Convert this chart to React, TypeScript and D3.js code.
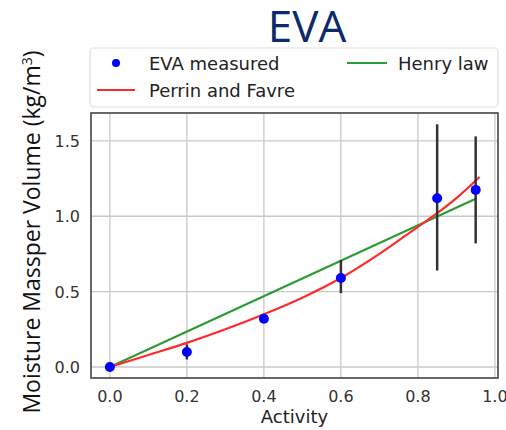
import React from "react";
import * as d3 from "d3";

const measuredX = [0, 0.2, 0.4, 0.6, 0.85, 0.95];
const measuredY = [0, 0.1, 0.32, 0.59, 1.12, 1.175];
const errLow = [0, 0.05, 0.32, 0.49, 0.64, 0.82];
const errHigh = [0, 0.15, 0.32, 0.71, 1.61, 1.53];

const perrinX = [0, 0.1, 0.2, 0.3, 0.4, 0.5, 0.6, 0.7, 0.8, 0.85, 0.9, 0.96];
const perrinY = [0, 0.08, 0.16, 0.25, 0.35, 0.46, 0.59, 0.75, 0.93, 1.02, 1.12, 1.26];

const henryX = [0, 0.953];
const henryY = [0, 1.12];

const xTicks = [0, 0.2, 0.4, 0.6, 0.8, 1.0];
const yTicks = [0, 0.5, 1.0, 1.5];

const W = 506, H = 430;
const frame = { left: 91, right: 498, top: 113, bottom: 378 };

export default function App() {
  const x = d3.scaleLinear().domain([-0.049, 1.008]).range([frame.left, frame.right]);
  const y = d3.scaleLinear().domain([-0.073, 1.685]).range([frame.bottom, frame.top]);
  const line = d3.line<[number, number]>().x(d => x(d[0])).y(d => y(d[1]));
  const perrin = line.curve(d3.curveMonotoneX)(perrinX.map((v, i) => [v, perrinY[i]]) as [number, number][]);
  const henry = d3.line<[number, number]>().x(d => x(d[0])).y(d => y(d[1]))(henryX.map((v, i) => [v, henryY[i]]) as [number, number][]);
  const tickFont = "DejaVu Sans";
  return (
    <div style={{ position: "absolute", left: 0, top: 0 }}>
      <svg width={W} height={H} style={{ display: "block", background: "#fff" }}>
        <text x={307} y={42} textAnchor="middle" fontFamily="Open Sans" fontSize={44} fill="#0b2a6b">EVA</text>
        {/* grid */}
        {xTicks.map(t => (
          <line key={"gx" + t} x1={x(t)} x2={x(t)} y1={frame.top} y2={frame.bottom} stroke="#c8c8c8" strokeWidth={1.3} />
        ))}
        {yTicks.map(t => (
          <line key={"gy" + t} x1={frame.left} x2={frame.right} y1={y(t)} y2={y(t)} stroke="#c8c8c8" strokeWidth={1.3} />
        ))}
        {/* lines */}
        <path d={henry || ""} fill="none" stroke="#2e9a35" strokeWidth={2.2} />
        <path d={perrin || ""} fill="none" stroke="#ff2a2a" strokeWidth={2.2} />
        {/* error bars */}
        {measuredX.map((v, i) => (
          errHigh[i] > errLow[i] ? (
            <line key={"e" + i} x1={x(v)} x2={x(v)} y1={y(errLow[i])} y2={y(errHigh[i])} stroke="#333" strokeWidth={2.5} />
          ) : null
        ))}
        {measuredX.map((v, i) => (
          <circle key={"p" + i} cx={x(v)} cy={y(measuredY[i])} r={5} fill="#0000ff" />
        ))}
        {/* frame */}
        <rect x={frame.left} y={frame.top} width={frame.right - frame.left} height={frame.bottom - frame.top} fill="none" stroke="#444" strokeWidth={1.6} />
        {/* tick labels */}
        {xTicks.map(t => (
          <text key={"tx" + t} x={x(t)} y={402} textAnchor="middle" fontFamily={tickFont} fontSize={16} fill="#333">{t.toFixed(1)}</text>
        ))}
        {yTicks.map(t => (
          <text key={"ty" + t} x={80} y={y(t) + 6} textAnchor="end" fontFamily={tickFont} fontSize={16} fill="#333">{t.toFixed(1)}</text>
        ))}
        <text x={(frame.left + frame.right) / 2} y={423} textAnchor="middle" fontFamily={tickFont} fontSize={18} fill="#222">Activity</text>
        <text transform={`translate(40,232) rotate(-90)`} textAnchor="middle" fontFamily="Open Sans" fontSize={23} fill="#111">
          Moisture Massper Volume (kg/m<tspan dy={-8} fontSize={14}>3</tspan><tspan dy={8}>)</tspan>
        </text>
        {/* legend */}
        <rect x={90} y={48} width={408} height={59} rx={4} fill="#fff" stroke="#ddd" strokeWidth={1.2} />
        <circle cx={116} cy={63} r={4} fill="#0000ff" />
        <text x={149} y={70} fontFamily={tickFont} fontSize={18} fill="#222">EVA measured</text>
        <line x1={347} x2={387} y1={63} y2={63} stroke="#2e9a35" strokeWidth={2.2} />
        <text x={398} y={70} fontFamily={tickFont} fontSize={18} fill="#222">Henry law</text>
        <line x1={97} x2={135} y1={90} y2={90} stroke="#ff2a2a" strokeWidth={2.2} />
        <text x={149} y={97} fontFamily={tickFont} fontSize={18} fill="#222">Perrin and Favre</text>
      </svg>
    </div>
  );
}
